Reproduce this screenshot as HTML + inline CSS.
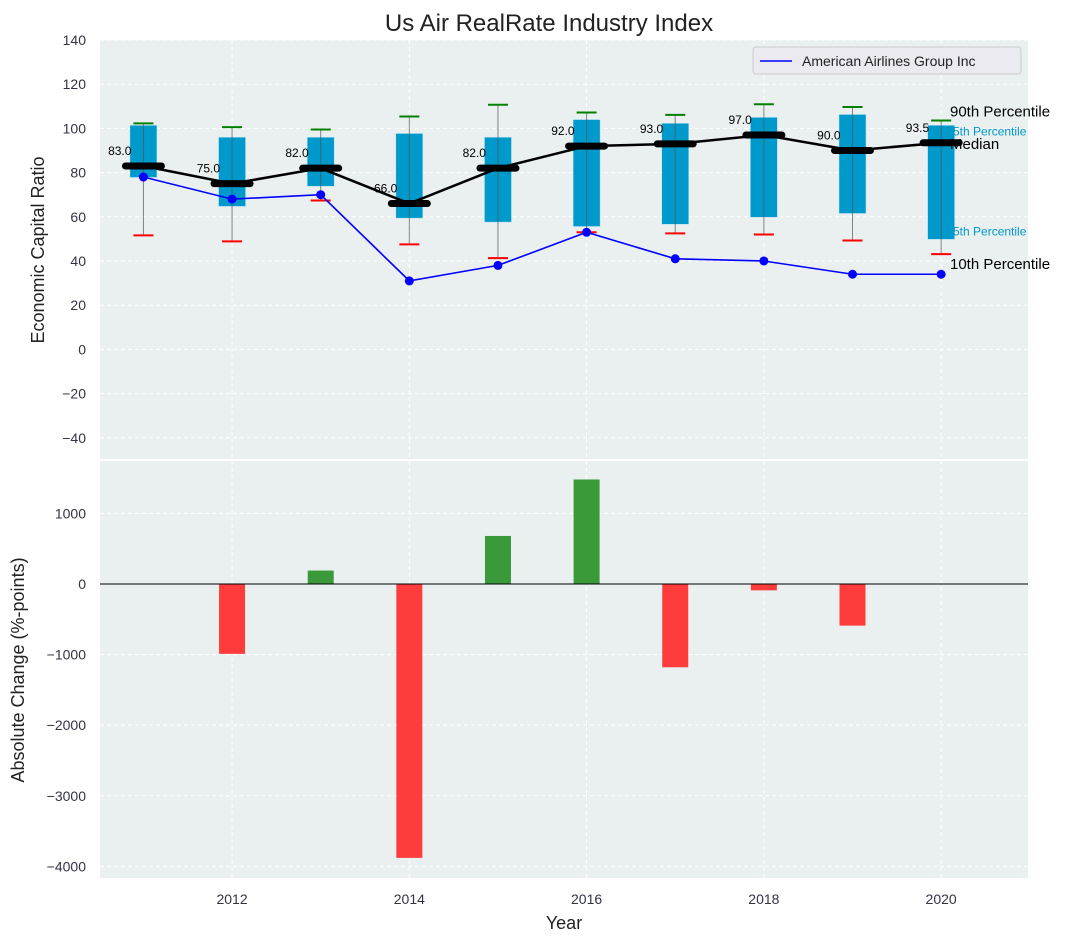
<!DOCTYPE html>
<html><head><meta charset="utf-8"><style>
body{margin:0;background:#fff}
svg{display:block;font-family:"Liberation Sans","DejaVu Sans",sans-serif}
</style></head><body>
<svg id="c" width="1085" height="942"></svg>
<script>
const years=[2011,2012,2013,2014,2015,2016,2017,2018,2019,2020];
const p90=[102.3,100.6,99.5,105.4,110.7,107.2,106.1,110.9,109.7,103.6];
const p75=[101.4,96,96,97.7,96,104,102.3,105,106.3,101.4];
const p50=[83,75,82,66,82,92,93,97,90,93.5];
const p25=[77.8,64.7,73.8,59.4,57.6,55.6,56.6,59.8,61.5,49.8];
const p10=[51.6,48.9,67.4,47.5,41.3,53,52.5,52,49.3,43.1];
const company=[78,68,70,31,38,53,41,40,34,34];
const changes=[0,-990,190,-3880,680,1480,-1180,-90,-590,0];
const topTicks=[-40,-20,0,20,40,60,80,100,120,140];
const botTicks=[-4000,-3000,-2000,-1000,0,1000];
const xTicks=[2012,2014,2016,2018,2020];

const NS="http://www.w3.org/2000/svg";
const svg=document.getElementById('c');
function el(t,a,txt,p){const e=document.createElementNS(NS,t);for(const k in a)e.setAttribute(k,a[k]);if(txt!==undefined)e.textContent=txt;(p||svg).appendChild(e);return e;}
const L=100,R=1028;
const X=v=>L+(v-2010.51)/(2020.98-2010.51)*(R-L);
const T0=40,T1=459,B0=461,B1=878;
const YT=v=>T0+(140-v)/(140-(-49.6))*(T1-T0);
const YB=v=>B0+(1742-v)/(1742-(-4165))*(B1-B0);

let e;
e=el('rect',{x:L,y:T0,width:R-L,height:T1-T0,fill:'#eaeff0'});

e=el('rect',{x:L,y:B0,width:R-L,height:B1-B0,fill:'#eaeff0'});


xTicks.forEach(t=>{
  el('line',{x1:X(t),x2:X(t),y1:T0,y2:T1,stroke:'#fff','stroke-dasharray':'4,3','stroke-width':1});
  el('line',{x1:X(t),x2:X(t),y1:B0,y2:B1,stroke:'#fff','stroke-dasharray':'4,3','stroke-width':1});
  e=el('text',{x:X(t),y:904,'text-anchor':'middle','font-size':14,fill:'#334'},t);
  
});
topTicks.forEach(t=>{
  el('line',{x1:L,x2:R,y1:YT(t),y2:YT(t),stroke:'#fff','stroke-dasharray':'4,3','stroke-width':1});
  e=el('text',{x:L-14,y:YT(t)+5,'text-anchor':'end','font-size':14,fill:'#334'},t<0?'\u2212'+(-t):t);
  
});
botTicks.forEach(t=>{
  el('line',{x1:L,x2:R,y1:YB(t),y2:YB(t),stroke:'#fff','stroke-dasharray':'4,3','stroke-width':1});
  e=el('text',{x:L-14,y:YB(t)+5,'text-anchor':'end','font-size':14,fill:'#334'},t<0?'\u2212'+(-t):t);
  
});

years.forEach((y,i)=>{
  const cx=X(y),w=27;
  e=el('rect',{x:cx-w/2,y:YT(p75[i]),width:w,height:YT(p25[i])-YT(p75[i]),fill:'#0099cc',stroke:'#bfe3ef','stroke-width':0.5});
  
  e=el('line',{x1:cx,x2:cx,y1:YT(p90[i]),y2:YT(p10[i]),stroke:'#555','stroke-width':1,opacity:0.7});
  
  e=el('line',{x1:cx-10,x2:cx+10,y1:YT(p90[i]),y2:YT(p90[i]),stroke:'green','stroke-width':2});
  
  e=el('line',{x1:cx-10,x2:cx+10,y1:YT(p10[i]),y2:YT(p10[i]),stroke:'red','stroke-width':2});
  
});
e=el('polyline',{points:years.map((y,i)=>X(y)+','+YT(p50[i])).join(' '),fill:'none',stroke:'#000','stroke-width':2.5});

years.forEach((y,i)=>{
  const cx=X(y);
  e=el('line',{x1:cx-18,x2:cx+18,y1:YT(p50[i]),y2:YT(p50[i]),stroke:'#000','stroke-width':7,'stroke-linecap':'round'});
  
  e=el('text',{x:cx-12,y:YT(p50[i])-11,'text-anchor':'end','font-size':12,fill:'#000'},p50[i].toFixed(1));
  
});
e=el('polyline',{points:years.map((y,i)=>X(y)+','+YT(company[i])).join(' '),fill:'none',stroke:'#0000ff','stroke-width':1.6});

years.forEach((y,i)=>{
  e=el('circle',{cx:X(y),cy:YT(company[i]),r:4.5,fill:'#0000ff'});
  
});
const li=years.length-1;
[['90th Percentile',YT(p90[li])-4,15,'#000','label-p90'],
 ['Median',YT(p50[li])+6,15,'#000','label-median'],
 ['10th Percentile',YT(p10[li])+15,15,'#000','label-p10']].forEach(a=>{
  e=el('text',{x:950,y:a[1],'font-size':a[2],fill:a[3]},a[0]);
  
});
e=el('text',{x:953,y:YT(p75[li])+10,'font-size':12,fill:'#0099cc'},'5th Percentile');

e=el('text',{x:953,y:YT(p25[li])-4,'font-size':12,fill:'#0099cc'},'5th Percentile');


e=el('rect',{x:753,y:47,width:268,height:27,rx:3,fill:'#eaeaf0',stroke:'#ccc'});

el('line',{x1:760,x2:792,y1:61,y2:61,stroke:'#0000ff','stroke-width':1.6});
e=el('text',{x:802,y:66,'font-size':14,fill:'#222'},'American Airlines Group Inc');


years.forEach((y,i)=>{
  const v=changes[i];if(v===0)return;
  const cx=X(y),w=26;
  e=el('rect',{x:cx-w/2,y:Math.min(YB(v),YB(0)),width:w,height:Math.abs(YB(v)-YB(0)),fill:v>0?'#3a9a3a':'#ff3c3c'});
  
});
e=el('line',{x1:L,x2:R,y1:YB(0),y2:YB(0),stroke:'#000','stroke-width':1});


e=el('text',{x:549,y:31,'text-anchor':'middle','font-size':24,fill:'#222'},'Us Air RealRate Industry Index');

e=el('text',{x:564,y:929,'text-anchor':'middle','font-size':18,fill:'#222'},'Year');

e=el('text',{x:0,y:0,'text-anchor':'middle','font-size':18,fill:'#222',transform:'translate(44,250) rotate(-90)'},'Economic Capital Ratio');

e=el('text',{x:0,y:0,'text-anchor':'middle','font-size':18,fill:'#222',transform:'translate(24,670) rotate(-90)'},'Absolute Change (%-points)');

</script>
</body></html>
